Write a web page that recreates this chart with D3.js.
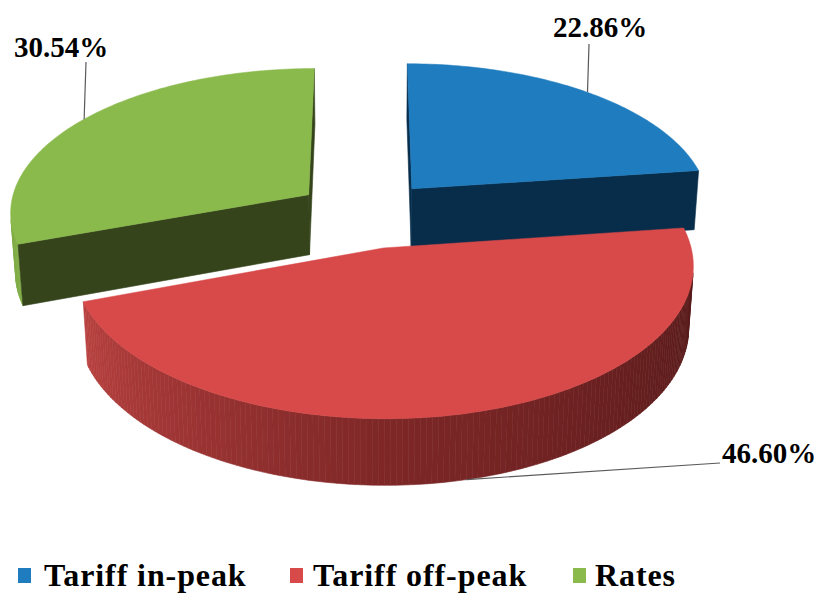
<!DOCTYPE html>
<html>
<head>
<meta charset="utf-8">
<script src="https://cdn.jsdelivr.net/npm/d3@7"></script>
<style>
  body { margin: 0; background: #fff; }
  svg { display: block; }
</style>
</head>
<body>
<svg id="chart" width="821" height="593"></svg>
<script>
// data
const categories = ["Tariff in-peak", "Tariff off-peak", "Rates"];
const values = [22.86, 46.60, 30.54];
const labels = ["22.86%", "46.60%", "30.54%"];

// colours
const topColors = ["#1f7cbe", "#d84a4a", "#8ab94c"];
const cutColors = ["#072d4b", "#521818", "#36441c"];
const sideShade = [
  d3.scaleLinear().domain([0, 82]).range(["#0b3c63", "#082f4e"]).clamp(true),
  d3.scaleLinear().domain([90, 180, 250]).range(["#521818", "#7e2727", "#b8413f"]).clamp(true),
  d3.scaleLinear().domain([250, 360]).range(["#82ae48", "#6e953b"]).clamp(true),
];

// 3d view
const tilt = Math.asin(0.48), cosT = Math.cos(tilt), sinT = Math.sin(tilt);
const R = 300, H = 70, explode = 71, persp = 2400, cx = 366, cy = 214;

const svg = d3.select("#chart");
const arcs = d3.pie().sort(null).value((d) => d)(values);
const deg = (a) => a * 180 / Math.PI;
const line = d3.line();

function project(X, Y, Z) {
  const up = Y * cosT + Z * sinT;
  const depth = Z * cosT - Y * sinT;
  const s = persp / (persp + depth);
  return [cx + X * s, cy - up * s];
}

function pt(d, a, r, y) {
  const mid = (d.startAngle + d.endAngle) / 2;
  const ox = explode * Math.sin(mid), oz = explode * Math.cos(mid);
  return project(ox + r * Math.sin(a), y, oz + r * Math.cos(a));
}

function angles(d) {
  const n = Math.max(2, Math.ceil(deg(d.endAngle - d.startAngle)));
  return d3.range(n + 1).map((i) => d.startAngle + (d.endAngle - d.startAngle) * i / n);
}

// faces wound so that a negative screen area means facing the viewer
function facing(poly) {
  let s = 0;
  for (let k = 0; k < poly.length; k++) {
    const p = poly[k], q = poly[(k + 1) % poly.length];
    s += p[0] * q[1] - q[0] * p[1];
  }
  return s < 0;
}

function face(g, poly, color) {
  if (!facing(poly)) return;
  g.append("path").attr("d", line(poly) + "Z")
    .attr("fill", color).attr("stroke", color).attr("stroke-width", 0.6);
}

function drawSlice(d, i) {
  const g = svg.append("g").attr("class", "slice");
  const as = angles(d);

  // outer wall
  for (let k = 0; k < as.length - 1; k++) {
    const a0 = as[k], a1 = as[k + 1];
    face(g, [pt(d, a0, R, 0), pt(d, a1, R, 0), pt(d, a1, R, -H), pt(d, a0, R, -H)],
      sideShade[i](deg((a0 + a1) / 2)));
  }

  // cut faces
  const a = d.startAngle, b = d.endAngle;
  face(g, [pt(d, a, 0, 0), pt(d, a, R, 0), pt(d, a, R, -H), pt(d, a, 0, -H)], cutColors[i]);
  face(g, [pt(d, b, 0, 0), pt(d, b, 0, -H), pt(d, b, R, -H), pt(d, b, R, 0)], cutColors[i]);

  // top
  const top = [pt(d, 0, 0, 0)].concat(as.map((t) => pt(d, t, R, 0)));
  g.append("path").attr("d", line(top) + "Z")
    .attr("fill", topColors[i]).attr("stroke", topColors[i]).attr("stroke-width", 0.5);
}

// back slices first
[0, 2, 1].forEach((i) => drawSlice(arcs[i], i));

// data labels
const labelLayout = [
  { x: 600, y: 37, lx: 589, ly: 44, anchor: "middle", bottom: false },
  { x: 722, y: 463, lx: 720, ly: 463, anchor: "start", bottom: true },
  { x: 61, y: 57, lx: 86, ly: 62, anchor: "middle", bottom: false },
];

arcs.forEach((d, i) => {
  const L = labelLayout[i];
  const mid = (d.startAngle + d.endAngle) / 2;
  const p = pt(d, mid, R, L.bottom ? -H : 0);
  svg.append("line")
    .attr("x1", p[0]).attr("y1", p[1]).attr("x2", L.lx).attr("y2", L.ly)
    .attr("stroke", "#5a5a5a").attr("stroke-width", 1.2);
  svg.append("text")
    .attr("x", L.x).attr("y", L.y)
    .attr("text-anchor", L.anchor)
    .attr("font-family", "'Liberation Serif', 'Times New Roman', serif")
    .attr("font-weight", "bold").attr("font-size", 29)
    .attr("fill", "#000")
    .text(labels[i]);
});

// legend
const legendX = [18, 290, 573];
const legendTextX = [44, 313, 595];
categories.forEach((c, i) => {
  svg.append("rect")
    .attr("x", legendX[i]).attr("y", 568).attr("width", 13).attr("height", 15)
    .attr("fill", topColors[i]);
  svg.append("text")
    .attr("x", legendTextX[i]).attr("y", 586)
    .attr("font-family", "'Liberation Serif', 'Times New Roman', serif")
    .attr("font-weight", "bold").attr("font-size", 32)
    .attr("letter-spacing", 0.9)
    .attr("fill", "#000")
    .text(c);
});
</script>
</body>
</html>
